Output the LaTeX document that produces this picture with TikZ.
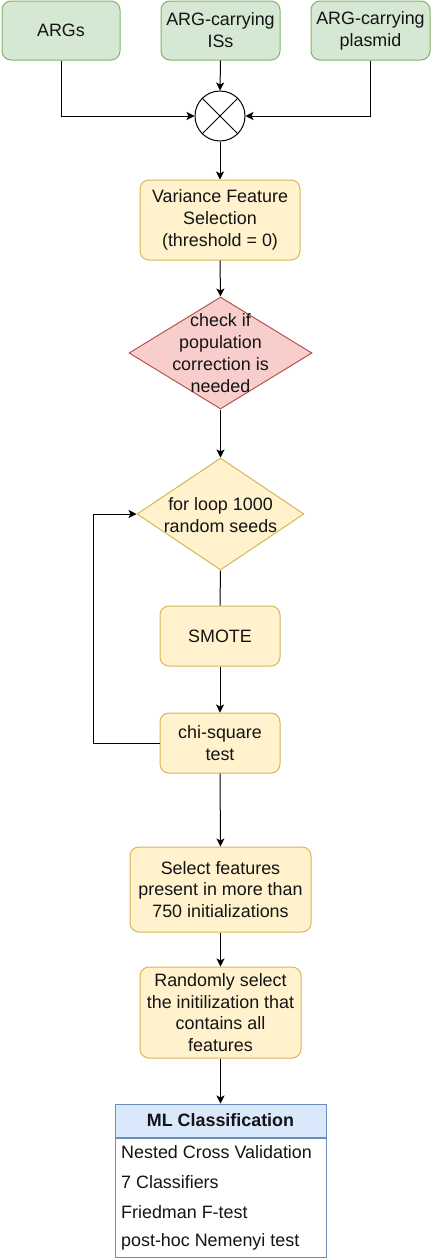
\documentclass[tikz,border=0pt]{standalone}
\usepackage{fontspec}
\setmainfont{Liberation Sans}
\usetikzlibrary{shapes.geometric,arrows.meta}
\definecolor{gfill}{HTML}{D5E8D4}
\definecolor{gdraw}{HTML}{82B366}
\definecolor{yfill}{HTML}{FFF2CC}
\definecolor{ydraw}{HTML}{D6B656}
\definecolor{rfill}{HTML}{F8CECC}
\definecolor{rdraw}{HTML}{B85450}
\definecolor{bfill}{HTML}{DAE8FC}
\definecolor{bdraw}{HTML}{6C8EBF}
\tikzset{
  every node/.style={font=\fontsize{17.9}{21.8}\selectfont, text=black!92, align=center, inner sep=0pt},
  greenbox/.style={draw=gdraw, fill=gfill, rounded corners=9pt, line width=1pt},
  yellowbox/.style={draw=ydraw, fill=yfill, rounded corners=9pt, line width=1pt},
  reddiam/.style={diamond, draw=rdraw, fill=rfill, line width=1pt},
  yellowdiam/.style={diamond, draw=ydraw, fill=yfill, line width=1pt},
  conn/.style={line width=1pt, draw=black},
  arr/.style={conn, -{Stealth[length=8pt,width=8pt,inset=2pt]}},
  rowtext/.style={anchor=west, font=\fontsize{17.9}{21.8}\selectfont},
}
\begin{document}
\begin{tikzpicture}[x=1pt,y=-1pt]
\useasboundingbox (0,0) rectangle (431,1258);
% top inputs
\node[greenbox, minimum width=118pt, minimum height=59pt] (args) at (61,30.5) {ARGs};
\node[greenbox, minimum width=119pt, minimum height=59pt] (iss) at (220.5,30.5) {ARG-carrying\\ISs};
\node[greenbox, minimum width=119pt, minimum height=59pt] (plas) at (370.5,30.5) {ARG-carrying\\plasmid};
% combiner
\node[circle, draw, line width=1pt, minimum size=50pt, fill=white] (circ) at (220,116) {};
\draw[conn] (circ.north west) -- (circ.south east);
\draw[conn] (circ.north east) -- (circ.south west);
% variance
\node[yellowbox, minimum width=160pt, minimum height=80pt] (var) at (220,220) {Variance Feature\\Selection\\(threshold = 0)};
% population diamond
\node[reddiam, minimum width=183pt, minimum height=112pt] (pop) at (220.5,353) {};
\node (poptxt) at (220.5,353) {check if\\population\\correction is\\needed};
% loop diamond
\node[yellowdiam, minimum width=167pt, minimum height=112pt] (loop) at (220.5,514) {};
\node (looptxt) at (220.5,515) {for loop 1000\\random seeds};
% smote
\node[yellowbox, minimum width=120pt, minimum height=60pt] (smote) at (220,636) {SMOTE};
\node[yellowbox, minimum width=120pt, minimum height=60pt] (chi) at (220,743) {chi-square\\test};
\coordinate (loopcorner) at (93,743);
% select
\node[yellowbox, minimum width=181pt, minimum height=85pt] (sel) at (220.5,889.5) {Select features\\present in more than\\750 initializations};
\node[yellowbox, minimum width=161pt, minimum height=91pt] (rnd) at (220.5,1012.5) {Randomly select\\the initilization that\\contains all\\features};
% ML table
\node[draw=bdraw, fill=bfill, line width=1pt, minimum width=211pt, minimum height=33pt] (mlh) at (220.5,1120.5) {\bfseries ML Classification};
\node[draw=bdraw, fill=white, line width=1pt, minimum width=211pt, minimum height=119pt, anchor=north] (mlb) at (mlh.south) {};
\node[rowtext] (r1) at (121,1152) {Nested Cross Validation};
\node[rowtext] (r2) at (121,1182) {7 Classifiers};
\node[rowtext] (r3) at (121,1212) {Friedman F-test};
\node[rowtext] (r4) at (121,1242) {post-hoc Nemenyi test};
% connectors
\draw[arr] (args.south) |- (circ.west);
\draw[arr] (iss.south) -- (circ.north);
\draw[arr] (plas.south) |- (circ.east);
\draw[arr] (circ.south) -- (var.north);
\draw[arr] (var.south) -- (pop.north);
\draw[arr] (pop.south) -- (loop.north);
\draw[conn] (loop.south) -- (smote.north);
\draw[arr] (smote.south) -- (chi.north);
\draw[arr] (chi.west) -- (loopcorner) |- (loop.west);
\draw[arr] (chi.south) -- (sel.north);
\draw[arr] (sel.south) -- (rnd.north);
\draw[arr] (rnd.south) -- (mlh.north);
\end{tikzpicture}
\end{document}
